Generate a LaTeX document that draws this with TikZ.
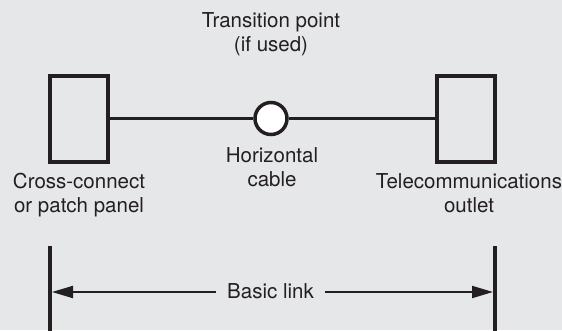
\documentclass[tikz,border=0pt]{standalone}
\usepackage{fontspec}
\setmainfont{TeX Gyre Heros}
\usetikzlibrary{arrows.meta}
\definecolor{bg}{HTML}{E6E7E8}
\definecolor{ink}{HTML}{231F20}
\tikzset{
  lbl/.style={font=\fontsize{20.5}{24}\selectfont, text=ink, inner sep=0pt, align=center},
  panel/.style={draw=ink, line width=4pt, minimum width=58pt, minimum height=86pt, inner sep=0pt},
  tp/.style={circle, draw=ink, fill=white, line width=3.5pt, minimum size=32pt, inner sep=0pt},
  cablel/.style={draw=ink, line width=2.2pt},
  bar/.style={draw=ink, line width=4pt},
  dim/.style={draw=ink, line width=2pt, -{Triangle[length=21pt,width=12pt]}}
}
\begin{document}
\begin{tikzpicture}[x=1pt,y=-1pt]
\fill[bg] (0,0) rectangle (562,330);
\useasboundingbox (0,0) rectangle (562,330);
% panels
\node[panel] (cc) at (79,119) {};
\node[panel] (to) at (466,119) {};
\node[tp] (tpt) at (271,118.5) {};
\draw[cablel] (cc.east |- 0,118.5) -- (tpt.west);
\draw[cablel] (tpt.east) -- (to.west |- 0,118.5);
% labels (base anchor = baseline of last line)
\node[lbl, anchor=base] (tlbl) at (271,51) {Transition point\\(if used)};
\node[lbl, anchor=base] (hlbl) at (272,186) {Horizontal\\cable};
\node[lbl, anchor=base] (cclbl) at (79,212) {Cross-connect\\or patch panel};
\node[lbl, anchor=base] (tolbl) at (469,212) {Telecommunications\\outlet};
% basic link
\coordinate (lt) at (50,246);
\coordinate (lb) at (50,331);
\coordinate (rt) at (495,246);
\coordinate (rb) at (495,331);
\draw[bar] (lt) -- (lb);
\draw[bar] (rt) -- (rb);
\node[lbl, anchor=base, inner xsep=11pt] (bl) at (270.5,298) {Basic link};
\coordinate (la) at (52,292);
\coordinate (ra) at (493,292);
\draw[dim] (bl.west |- la) -- (la);
\draw[dim] (bl.east |- ra) -- (ra);
\end{tikzpicture}
\end{document}
